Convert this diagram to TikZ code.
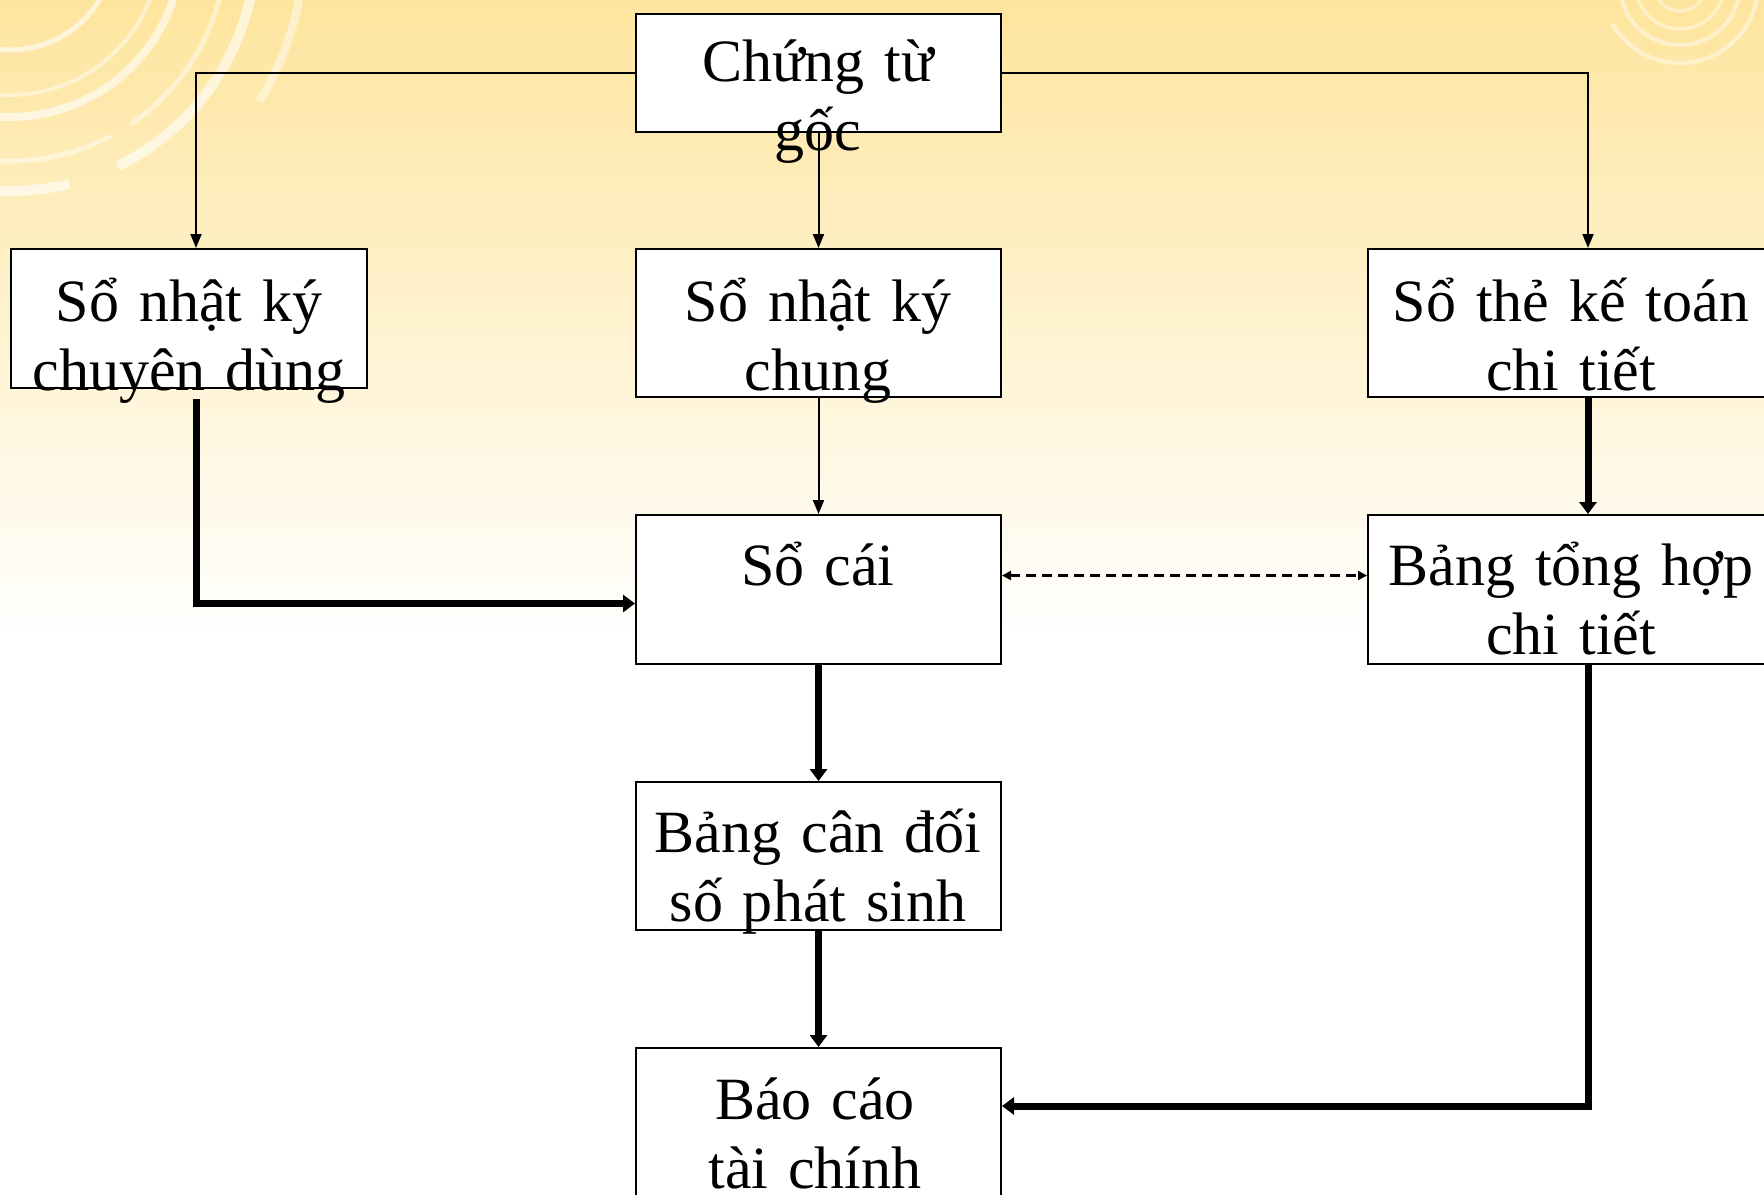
\documentclass[tikz,border=0pt]{standalone}
\usepackage{fontspec}
\setmainfont[WordSpace=0.8]{Liberation Serif}
\usetikzlibrary{arrows.meta,fit,calc}
\definecolor{bgtop}{RGB}{254,229,158}
\tikzset{
 box/.style={draw=black, line width=1pt, fill=white, inner sep=0pt},
 lbl/.style={anchor=base, inner sep=0pt, text width=220pt, align=center, font=\fontsize{30pt}{34.5pt}\selectfont},
 thinarrow/.style={draw, line width=1pt, -{Triangle[length=7pt,width=5.5pt]}},
 thickarrow/.style={draw, line width=3.5pt, -{Triangle[length=6pt,width=8.5pt]}},
 dasharrow/.style={draw, line width=1.1pt, dash pattern=on 5pt off 3pt, {Triangle[length=4.5pt,width=4.5pt]}-{Triangle[length=4.5pt,width=4.5pt]}},
 deco/.style={draw=white, opacity=0.6},
 decob/.style={draw=white, opacity=0.45},
}
\begin{document}
\begin{tikzpicture}[x=0.5pt,y=-0.5pt]
\useasboundingbox (0,0) rectangle (1764,1194);
\clip (0,0) rectangle (1764,1194);
% background
\fill[top color=bgtop, bottom color=white] (0,0) rectangle (1764,640);
\fill[white] (0,639) rectangle (1764,1194);
% decorative arcs, top left
\begin{scope}[shift={(10,-55)}]
 \draw[deco, line width=2.5pt] (-100:52.5pt) arc[start angle=-100,end angle=10,radius=52.5pt];
 \draw[decob, line width=2pt] (-100:75pt) arc[start angle=-100,end angle=10,radius=75pt];
 \draw[deco, line width=4pt] (-100:86pt) arc[start angle=-100,end angle=10,radius=86pt];
 \draw[decob, line width=2.5pt] (-100:108pt) arc[start angle=-100,end angle=-62,radius=108pt];
 \draw[decob, line width=2.5pt] (-56:108pt) arc[start angle=-56,end angle=10,radius=108pt];
 \draw[deco, line width=5pt] (-100:123pt) arc[start angle=-100,end angle=-76,radius=123pt];
 \draw[deco, line width=5pt] (-64:123pt) arc[start angle=-64,end angle=10,radius=123pt];
 \draw[decob, line width=4pt] (-32:147pt) arc[start angle=-32,end angle=10,radius=147pt];
\end{scope}
% decorative arcs, top right
\begin{scope}[shift={(1680,-15)}]
 \draw[decob, line width=1.5pt] (0,0) circle[radius=13pt];
 \draw[decob, line width=1.5pt] (0,0) circle[radius=22pt];
 \draw[decob, line width=2pt] (0,0) circle[radius=30pt];
 \draw[decob, line width=2pt] (-150:39pt) arc[start angle=-150,end angle=20,radius=39pt];
\end{scope}
% boxes
\node[box, fit={(636,13.5) (1001,132)}] (goc) {};
\node[box, fit={(11,249) (367,388)}] (chuyen) {};
\node[box, fit={(636,249) (1001,397)}] (chung) {};
\node[box, fit={(1368,249) (1808,397)}] (the) {};
\node[box, fit={(636,515) (1001,664)}] (socai) {};
\node[box, fit={(1368,515) (1808,664)}] (tonghop) {};
\node[box, fit={(636,782) (1001,930)}] (candoi) {};
\node[box, fit={(636,1048) (1001,1220)}] (baocao) {};
% labels
\node[lbl] (goc-t) at (818,81) {Chứng từ\\gốc};
\node[lbl] (chuyen-t) at (189,321) {Sổ nhật ký\\chuyên dùng};
\node[lbl] (chung-t) at (818,321) {Sổ nhật ký\\chung};
\node[lbl] (the-t) at (1571,321) {Sổ thẻ kế toán\\chi tiết};
\node[lbl] (socai-t) at (818,585) {Sổ cái};
\node[lbl] (tonghop-t) at (1571,585) {Bảng tổng hợp\\chi tiết};
\node[lbl] (candoi-t) at (818,852) {Bảng cân đối\\số phát sinh};
\node[lbl] (baocao-t) at (815,1119) {Báo cáo\\tài chính};
% connectors
\draw[thinarrow] (goc.west) -| ([xshift=3.5pt]chuyen.north);
\draw[thinarrow] (goc.east) -| (the.north);
\draw[thinarrow] (goc.south) -- (chung.north);
\draw[thinarrow] (chung.south) -- (socai.north);
\draw[thickarrow] ([xshift=3.5pt,yshift=-5pt]chuyen.south) |- ([yshift=-7pt]socai.west);
\draw[thickarrow] (the.south) -- (tonghop.north);
\draw[dasharrow] ([yshift=7pt]socai.east) -- ([yshift=7pt]socai.east -| tonghop.west);
\draw[thickarrow] (socai.south) -- (candoi.north);
\draw[thickarrow] (candoi.south) -- (baocao.north);
\draw[thickarrow] (tonghop.south) |- ([yshift=-29.5pt]baocao.north east);
\end{tikzpicture}
\end{document}
